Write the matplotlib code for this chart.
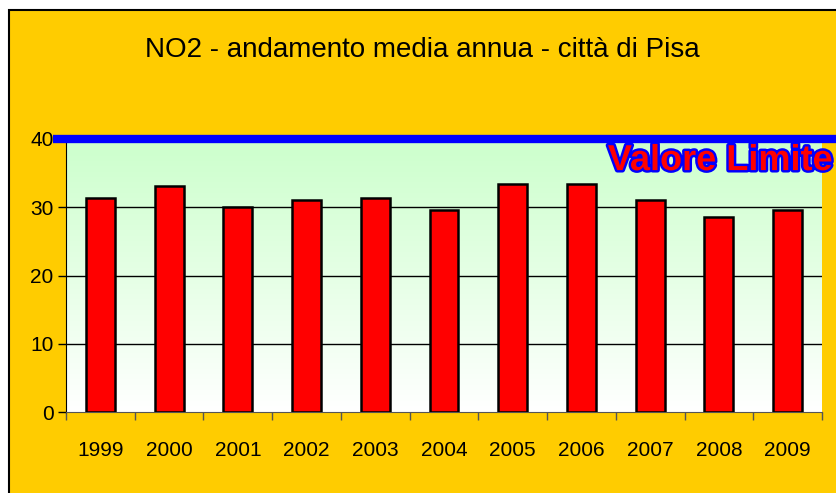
import matplotlib
matplotlib.use("Agg")
import matplotlib.pyplot as plt
import matplotlib.patheffects as pe
from matplotlib.colors import LinearSegmentedColormap
from matplotlib.patches import Rectangle
import numpy as np

# dati: media annua NO2 (ug/m3) - Pisa
anni = ["1999", "2000", "2001", "2002", "2003", "2004", "2005", "2006", "2007", "2008", "2009"]
media_annua = [31.4, 33.1, 30.0, 31.0, 31.4, 29.6, 33.4, 33.4, 31.0, 28.6, 29.6]
valore_limite = 40
y_ticks = [0, 10, 20, 30, 40]

font = ["Liberation Sans", "DejaVu Sans"]
giallo = "#FFCC00"

fig = plt.figure(figsize=(8.37, 4.93), dpi=100, facecolor="white")

# sfondo giallo con bordo nero
fig.patches.append(Rectangle((9 / 837, -0.05), 1.2, (493 - 10) / 493 + 0.05,
                             transform=fig.transFigure, facecolor=giallo,
                             edgecolor="black", linewidth=1.5, zorder=-10))

ax = fig.add_axes([66 / 837, 81 / 493, 756 / 837, 273 / 493])
ax.patch.set_visible(False)

# sfondo sfumato verde -> bianco
cmap = LinearSegmentedColormap.from_list("g", ["white", "#CCFFCC"])
grad = np.linspace(0, 1, 256).reshape(-1, 1)
ax.imshow(grad, extent=[0, 1, 0, 1], transform=ax.transAxes, cmap=cmap,
          aspect="auto", origin="lower", zorder=0)

x = np.arange(len(anni))
for t in y_ticks[1:-1]:
    ax.axhline(t, color="black", linewidth=1, zorder=1)

ax.bar(x, media_annua, width=0.42, color="#FF0000", edgecolor="black",
       linewidth=1.8, zorder=3)

ax.set_xlim(-0.5, len(anni) - 0.5)
ax.set_ylim(0, valore_limite)

# linea valore limite
ax.axhline(valore_limite, xmin=-0.017, xmax=1.03, color="#0000FF",
           linewidth=6, clip_on=False, zorder=4, solid_capstyle="butt")

ax.text(1.014, 0.985, "Valore Limite", transform=ax.transAxes, ha="right", va="top",
        fontsize=26, fontweight="bold", family=font,
        color="#FF0000", zorder=5, clip_on=False,
        path_effects=[pe.withStroke(linewidth=3.5, foreground="#0000FF")])

for s in ["top", "right"]:
    ax.spines[s].set_visible(False)
ax.spines["left"].set_color("black")
ax.spines["bottom"].set_color("#555555")

ax.set_yticks(y_ticks)
ax.set_yticklabels([str(t) for t in y_ticks], family=font, fontsize=15)
ax.set_xticks(x)
ax.set_xticklabels(anni, family=font, fontsize=15)
ax.tick_params(axis="x", length=0, pad=21)
ax.set_xticks(np.arange(len(anni) + 1) - 0.5, minor=True)
ax.tick_params(axis="x", which="minor", length=6, width=1, color="#555555")
ax.tick_params(axis="y", length=6, width=1, pad=3)

fig.text(422 / 837, 1 - 50 / 493, "NO2 - andamento media annua - città di Pisa",
         ha="center", va="center", fontsize=20, family=font)

fig.savefig("out.png", dpi=100, facecolor=fig.get_facecolor())
